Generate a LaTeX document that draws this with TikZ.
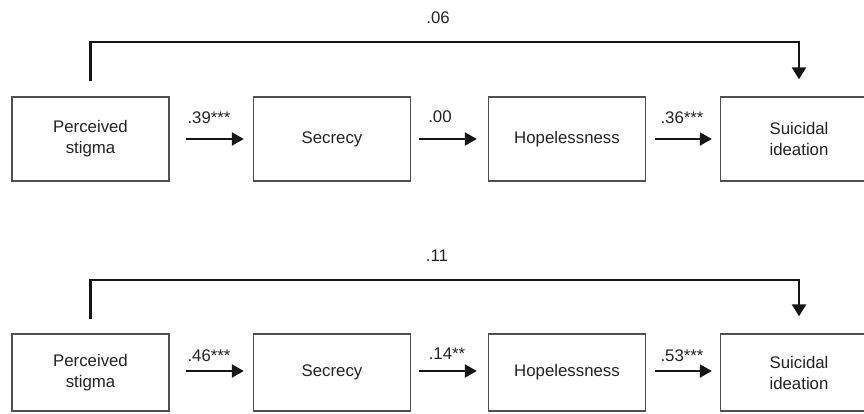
\documentclass[tikz,border=0pt]{standalone}
\usepackage{fontspec}
\setmainfont{Liberation Sans}
\usetikzlibrary{arrows.meta}
\definecolor{boxline}{HTML}{505050}
\definecolor{txt}{HTML}{222222}
\definecolor{ink}{HTML}{151515}
\begin{document}
\begin{tikzpicture}[x=1pt,y=-1pt,
  varbox/.style={draw=boxline,line width=1.4pt,rectangle,minimum width=157pt,
    inner sep=0pt,align=center,text=txt,font=\fontsize{16.8}{21}\selectfont},
  pathline/.style={draw=ink,line width=2.3pt,-{Triangle[length=12pt,width=13pt]}},
  direct/.style={draw=ink,line width=2.6pt,-{Triangle[length=12pt,width=14pt]}},
  coef/.style={text=txt,inner sep=0pt,font=\fontsize{16.8}{20}\selectfont}]
\useasboundingbox (0,0) rectangle (864,413);
% ---------- top model ----------
\node[varbox,minimum height=84pt] (a1) at (90.5,139) {Perceived\\stigma};
\node[varbox,minimum height=84pt] (b1) at (332,139) {Secrecy};
\node[varbox,minimum height=84pt] (c1) at (567,139) {Hopelessness};
\node[varbox,minimum height=84pt] (d1) at (799,139) {Suicidal\\ideation};
\draw[pathline,shorten <=16pt,shorten >=9pt] (a1.east) -- (b1.west);
\draw[pathline,shorten <=8pt,shorten >=11pt] (b1.east) -- (c1.west);
\draw[pathline,shorten <=9pt,shorten >=8pt] (c1.east) -- (d1.west);
\coordinate (t1) at (90.5,42);
\draw[direct,shorten <=15pt,shorten >=17pt] (a1.north) -- (t1) -| (d1.north);
\node[coef] (l1) at (209,118) {.39***};
\node[coef] (l2) at (440,117) {.00};
\node[coef] (l3) at (682,118) {.36***};
\node[coef] (l4) at (438,18) {.06};
% ---------- bottom model ----------
\node[varbox,minimum height=77pt] (a2) at (90.5,372.5) {Perceived\\stigma};
\node[varbox,minimum height=77pt] (b2) at (332,372.5) {Secrecy};
\node[varbox,minimum height=77pt] (c2) at (567,372.5) {Hopelessness};
\node[varbox,minimum height=77pt] (d2) at (799,372.5) {Suicidal\\ideation};
\draw[pathline,shorten <=16pt,shorten >=9pt] ([yshift=1.5pt]a2.east) -- ([yshift=1.5pt]b2.west);
\draw[pathline,shorten <=8pt,shorten >=11pt] ([yshift=1.5pt]b2.east) -- ([yshift=1.5pt]c2.west);
\draw[pathline,shorten <=9pt,shorten >=8pt] ([yshift=1.5pt]c2.east) -- ([yshift=1.5pt]d2.west);
\coordinate (t2) at (90.5,280);
\draw[direct,shorten <=14pt,shorten >=17pt] (a2.north) -- (t2) -| (d2.north);
\node[coef] (m1) at (209,356) {.46***};
\node[coef] (m2) at (447,354) {.14**};
\node[coef] (m3) at (682,356) {.53***};
\node[coef] (m4) at (437,256) {.11};
\end{tikzpicture}
\end{document}
